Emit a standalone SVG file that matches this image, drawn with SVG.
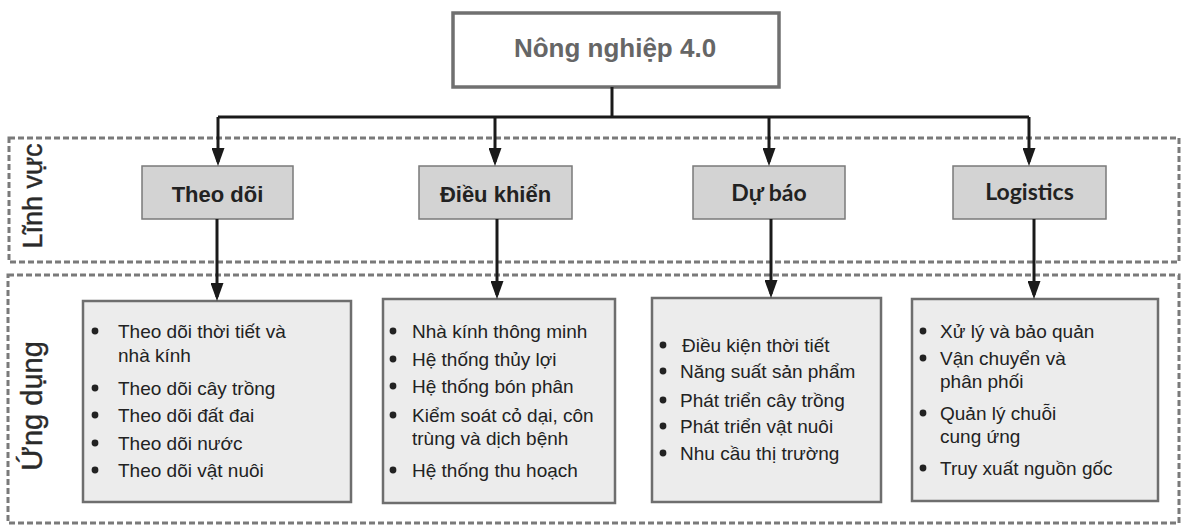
<svg xmlns="http://www.w3.org/2000/svg" width="1182" height="526" viewBox="0 0 1182 526">
<style>
.band{fill:none;stroke:#7a7a7a;stroke-width:3;stroke-dasharray:6 3}
.side{font-family:"Liberation Sans",Arial,sans-serif;font-size:27px;fill:#2a2a2a;text-anchor:middle;stroke:#2a2a2a;stroke-width:0.4}
.lbl rect{fill:#d3d3d3;stroke:#7a7a7a;stroke-width:1.5}
.lbl text{font-family:"Liberation Sans",Arial,sans-serif;font-size:22px;font-weight:bold;fill:#222;text-anchor:middle}
.lbl text.cal{font-family:Lato,"Open Sans",sans-serif;font-size:23px}
.lst rect{fill:#ececec;stroke:#6e6e6e;stroke-width:2.5}
.lst text{font-family:"Liberation Sans",Arial,sans-serif;font-size:19px;fill:#222}
.lst circle{fill:#222}
.con{fill:none;stroke:#1a1a1a;stroke-width:3}
</style>
<defs>
<marker id="ah" markerUnits="userSpaceOnUse" markerWidth="18" markerHeight="13" viewBox="0 0 18 13" refX="14" refY="6.5" orient="auto">
<path d="M0,0 L18,6.5 L0,13 z" fill="#1a1a1a"/>
</marker>
</defs>
<rect width="1182" height="526" fill="#fff"/>

<g id="band-linh-vuc">
<rect class="band" x="9" y="138" width="1170" height="124"/>
<text class="side" transform="translate(42,196) rotate(-90)">Lĩnh vực</text>
</g>
<g id="band-ung-dung">
<rect class="band" x="8" y="275" width="1171" height="248"/>
<text class="side" transform="translate(42,406) rotate(-90)" style="font-size:29px">Ứng dụng</text>
</g>

<g id="root">
<rect x="453" y="13" width="326" height="74" fill="#fff" stroke="#707070" stroke-width="3.5"/>
<text x="615" y="57" font-family="'Liberation Sans',Arial,sans-serif" font-size="26" font-weight="bold" fill="#666" text-anchor="middle">Nông nghiệp 4.0</text>
</g>

<g id="theo-doi" class="lbl">
<rect x="142" y="166" width="151" height="53"/>
<text x="217.5" y="202">Theo dõi</text>
</g>
<g id="dieu-khien" class="lbl">
<rect x="419" y="166" width="153" height="53"/>
<text x="495.5" y="202">Điều khiển</text>
</g>
<g id="du-bao" class="lbl">
<rect x="693" y="166" width="152" height="53"/>
<text class="cal" x="769" y="201">Dự báo</text>
</g>
<g id="logistics" class="lbl">
<rect x="953" y="166" width="153" height="53"/>
<text class="cal" x="1029.5" y="200">Logistics</text>
</g>

<g id="ung-dung-theo-doi" class="lst">
<rect x="83" y="301" width="268" height="201"/>
<circle cx="95" cy="331" r="3.4"/><text x="118" y="338">Theo dõi thời tiết và</text>
<text x="118" y="362">nhà kính</text>
<circle cx="95" cy="388" r="3.4"/><text x="118" y="395">Theo dõi cây trồng</text>
<circle cx="95" cy="415" r="3.4"/><text x="118" y="422">Theo dõi đất đai</text>
<circle cx="95" cy="443" r="3.4"/><text x="118" y="450">Theo dõi nước</text>
<circle cx="95" cy="470" r="3.4"/><text x="118" y="477">Theo dõi vật nuôi</text>
</g>
<g id="ung-dung-dieu-khien" class="lst">
<rect x="383" y="299" width="232" height="204"/>
<circle cx="393" cy="331" r="3.4"/><text x="412" y="338">Nhà kính thông minh</text>
<circle cx="393" cy="359" r="3.4"/><text x="412" y="366">Hệ thống thủy lợi</text>
<circle cx="393" cy="386" r="3.4"/><text x="412" y="393">Hệ thống bón phân</text>
<circle cx="393" cy="415" r="3.4"/><text x="412" y="422">Kiểm soát cỏ dại, côn</text>
<text x="412" y="445">trùng và dịch bệnh</text>
<circle cx="393" cy="470" r="3.4"/><text x="412" y="477">Hệ thống thu hoạch</text>
</g>
<g id="ung-dung-du-bao" class="lst">
<rect x="652" y="298" width="229" height="204"/>
<circle cx="663" cy="345" r="3.4"/><text x="682" y="352">Điều kiện thời tiết</text>
<circle cx="663" cy="371" r="3.4"/><text x="680" y="378">Năng suất sản phẩm</text>
<circle cx="663" cy="400" r="3.4"/><text x="680" y="407">Phát triển cây trồng</text>
<circle cx="663" cy="426" r="3.4"/><text x="680" y="433">Phát triển vật nuôi</text>
<circle cx="663" cy="453" r="3.4"/><text x="680" y="460">Nhu cầu thị trường</text>
</g>
<g id="ung-dung-logistics" class="lst">
<rect x="912" y="299" width="246" height="202"/>
<circle cx="923" cy="331" r="3.4"/><text x="940" y="338">Xử lý và bảo quản</text>
<circle cx="923" cy="358" r="3.4"/><text x="940" y="365">Vận chuyển và</text>
<text x="940" y="388">phân phối</text>
<circle cx="923" cy="413" r="3.4"/><text x="940" y="420">Quản lý chuỗi</text>
<text x="940" y="443">cung ứng</text>
<circle cx="923" cy="468" r="3.4"/><text x="940" y="475">Truy xuất nguồn gốc</text>
</g>

<g id="connectors" class="con">
<path d="M612 87 V117"/>
<path d="M218 117 H1029"/>
<path d="M218 117 V162" marker-end="url(#ah)"/>
<path d="M495 117 V162" marker-end="url(#ah)"/>
<path d="M769 117 V162" marker-end="url(#ah)"/>
<path d="M1029 117 V162" marker-end="url(#ah)"/>
<path d="M217 219 V297" marker-end="url(#ah)"/>
<path d="M497 219 V295" marker-end="url(#ah)"/>
<path d="M771 219 V294" marker-end="url(#ah)"/>
<path d="M1034 219 V295" marker-end="url(#ah)"/>
</g>
</svg>
